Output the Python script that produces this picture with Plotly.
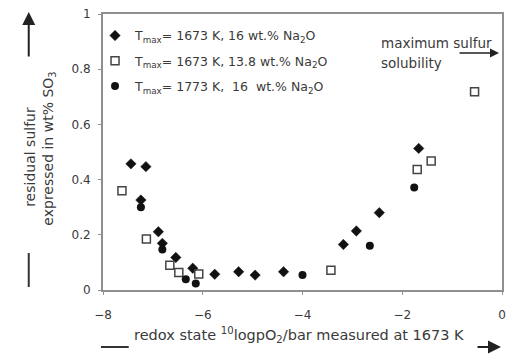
import plotly.graph_objects as go

# Series: T_max = 1673 K, 16 wt.% Na2O (filled diamonds)
dia_x = [-7.44, -7.14, -7.24, -6.89, -6.81, -6.54, -6.20, -5.76, -5.28, -4.95, -4.38, -3.18, -2.92, -2.46, -1.67]
dia_y = [0.457, 0.447, 0.326, 0.211, 0.169, 0.118, 0.079, 0.057, 0.066, 0.054, 0.066, 0.165, 0.214, 0.280, 0.513]

# Series: T_max = 1673 K, 13.8 wt.% Na2O (open squares)
sq_x = [-7.62, -7.13, -6.66, -6.48, -6.08, -3.43, -1.70, -1.42, -0.55]
sq_y = [0.360, 0.185, 0.090, 0.063, 0.058, 0.072, 0.437, 0.467, 0.718]

# Series: T_max = 1773 K, 16 wt.% Na2O (filled circles)
cir_x = [-7.24, -6.81, -6.34, -6.14, -4.00, -2.65, -1.76]
cir_y = [0.300, 0.147, 0.039, 0.024, 0.054, 0.160, 0.371]

x_ticks = [-8, -6, -4, -2, 0]
y_ticks = [0, 0.2, 0.4, 0.6, 0.8, 1]
y_tick_labels = ["0", "0.2", "0.4", "0.6", "0.8", "1"]

FONT = "DejaVu Sans, sans-serif"
TXT = "#3a3a3a"
AX = "#8f8f8f"

fig = go.Figure()
fig.add_trace(go.Scatter(
    x=dia_x, y=dia_y, mode="markers", legendgroup="a",
    name="T<sub>max</sub>= 1673 K, 16 wt.% Na<sub>2</sub>O",
    marker=dict(symbol="diamond", size=8, color="#111111", line=dict(width=0.5, color="#111111"))))
fig.add_trace(go.Scatter(
    x=sq_x, y=sq_y, mode="markers", legendgroup="b",
    name="T<sub>max</sub>= 1673 K, 13.8 wt.% Na<sub>2</sub>O",
    marker=dict(symbol="square-open", size=8, color="#444444", line=dict(width=1.5))))
fig.add_trace(go.Scatter(
    x=cir_x, y=cir_y, mode="markers", legendgroup="c",
    name="T<sub>max</sub>= 1773 K,  16  wt.% Na<sub>2</sub>O",
    marker=dict(symbol="circle", size=8, color="#111111")))

L, R, T, B = 103, 3, 14, 69
W, H = 509, 359
PW, PH = W - L - R, H - T - B

fig.update_layout(
    width=W, height=H,
    margin=dict(l=L, r=R, t=T, b=B),
    paper_bgcolor="white", plot_bgcolor="white",
    font=dict(family=FONT, size=12, color=TXT),
    showlegend=True,
    legend=dict(x=-0.02, y=0.975, xanchor="left", yanchor="top",
                bgcolor="rgba(0,0,0,0)", font=dict(size=12.5, color=TXT),
                tracegroupgap=6, itemwidth=30),
    xaxis=dict(range=[-8, 0], tickvals=x_ticks, ticks="outside", ticklen=3,
               tickcolor=AX, showline=True, linecolor=AX, linewidth=2, mirror=True,
               showgrid=False, zeroline=False, ticklabelstandoff=10,
               tickfont=dict(size=12, color=TXT)),
    yaxis=dict(range=[0, 1], tickvals=y_ticks, ticktext=y_tick_labels, ticks="outside", ticklen=3,
               tickcolor=AX, showline=True, linecolor=AX, linewidth=2, mirror=True,
               showgrid=False, zeroline=False, ticklabelstandoff=5,
               tickfont=dict(size=12, color=TXT)),
)

def px(xp):
    return (xp - L) / float(PW)

def py(yp):
    return (H - B - yp) / float(PH)

# y-axis title (two lines, rotated)
fig.add_annotation(x=px(19), y=py(157), xref="paper", yref="paper", text="residual sulfur",
                   textangle=-90, showarrow=False, font=dict(size=14, color=TXT))
fig.add_annotation(x=px(37), y=py(149), xref="paper", yref="paper", text="expressed in wt% SO<sub>3</sub>",
                   textangle=-90, showarrow=False, font=dict(size=14, color=TXT))
# up arrow above y title
fig.add_annotation(x=px(28), y=py(12), xref="paper", yref="paper", ax=0, ay=46,
                   showarrow=True, arrowhead=2, arrowsize=1.3, arrowwidth=2, arrowcolor="#222222", text="")
# short line below y title
fig.add_shape(type="line", xref="paper", yref="paper", x0=px(28), x1=px(28), y0=py(253), y1=py(287),
              line=dict(color="#333333", width=2))

# x-axis title
fig.add_annotation(x=px(301), y=py(347), xref="paper", yref="paper",
                   text="redox state <sup>10</sup>logpO<sub>2</sub>/bar measured at 1673 K",
                   showarrow=False, font=dict(size=14.5, color=TXT))
fig.add_shape(type="line", xref="paper", yref="paper", x0=px(101), x1=px(129), y0=py(347), y1=py(347),
              line=dict(color="#333333", width=2))
fig.add_annotation(x=px(505), y=py(347), xref="paper", yref="paper", ax=-25, ay=0,
                   showarrow=True, arrowhead=2, arrowsize=1.3, arrowwidth=2, arrowcolor="#222222", text="")

# maximum sulfur solubility
fig.add_annotation(x=px(382), y=py(33), xref="paper", yref="paper", xanchor="left",
                   text="maximum sulfur", showarrow=False, font=dict(size=13.5, color=TXT))
fig.add_annotation(x=px(382), y=py(53), xref="paper", yref="paper", xanchor="left",
                   text="solubility", showarrow=False, font=dict(size=13.5, color=TXT))
fig.add_annotation(x=px(503), y=py(53), xref="paper", yref="paper", ax=-41, ay=0,
                   showarrow=True, arrowhead=2, arrowsize=1.2, arrowwidth=1.5, arrowcolor="#222222", text="")

fig.write_html("out.html", config={"displayModeBar": False},
               post_script="document.body.style.margin='0';document.body.style.overflow='hidden';")
